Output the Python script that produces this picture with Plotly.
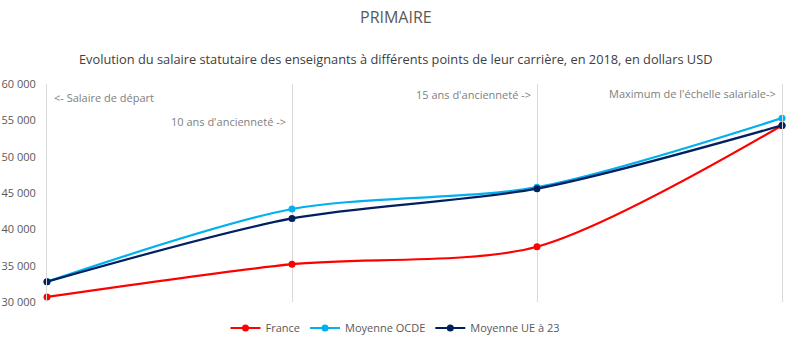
import plotly.graph_objects as go

points = ["Salaire de départ", "10 ans d'ancienneté", "15 ans d'ancienneté", "Maximum de l'échelle salariale"]
france = [30700, 35200, 37600, 54300]
ocde = [32800, 42800, 45800, 55300]
ue23 = [32800, 41500, 45600, 54300]
point_labels = ["<- Salaire de départ", "10 ans d'ancienneté ->", "15 ans d'ancienneté ->", "Maximum de l'échelle salariale->"]
label_levels = [58200, 54800, 58600, 58700]

xs = list(range(len(points)))
font = "Open Sans"

fig = go.Figure()
for name, vals, col in [("France", france, "#FF0000"),
                        ("Moyenne OCDE", ocde, "#00B0F0"),
                        ("Moyenne UE à 23", ue23, "#002060")]:
    fig.add_trace(go.Scatter(x=xs, y=vals, name=name, mode="lines+markers",
                             line=dict(color=col, width=2.2, shape="spline", smoothing=0.8),
                             marker=dict(color=col, size=7), customdata=points, cliponaxis=False))

def paper_y(py):
    return (302 - py) / 218

cx = (395.5 - 47) / 735

anns = []
for i, (t, lv) in enumerate(zip(point_labels, label_levels)):
    if i == 0:
        anns.append(dict(x=xs[i], y=lv, text=t, showarrow=False, xanchor="left", xshift=5,
                         font=dict(family=font, size=11, color="#808080")))
    else:
        anns.append(dict(x=xs[i], y=lv, text=t, showarrow=False, xanchor="right", xshift=-4,
                         font=dict(family=font, size=11, color="#808080")))
anns.append(dict(x=cx, y=paper_y(17), xref="paper", yref="paper", text="PRIMAIRE",
                 showarrow=False, xanchor="center", yanchor="middle",
                 font=dict(family=font, size=16, color="#595959")))
anns.append(dict(x=cx, y=paper_y(59), xref="paper", yref="paper",
                 text="Evolution du salaire statutaire des enseignants à différents points de leur carrière, en 2018, en dollars USD",
                 showarrow=False, xanchor="center", yanchor="middle",
                 font=dict(family=font, size=12.8, color="#404040")))

fig.update_layout(
    width=791, height=349,
    margin=dict(l=47, r=9, t=84, b=47, autoexpand=False),
    paper_bgcolor="white", plot_bgcolor="white",
    separators=", ",
    xaxis=dict(range=[0, 3], tickvals=xs, showticklabels=False, showgrid=True,
               gridcolor="#d9d9d9", gridwidth=1, zeroline=False, showline=False,
               automargin=False),
    yaxis=dict(range=[30000, 60000], dtick=5000, tickformat=",d", showgrid=False,
               zeroline=False, showline=True, mirror=True, linecolor="#d9d9d9", linewidth=1,
               ticklabelstandoff=8, automargin=False,
               tickfont=dict(family=font, size=11, color="#595959")),
    legend=dict(orientation="h", x=cx, xanchor="center", yref="container",
                y=(349 - 328) / 349, yanchor="middle",
                font=dict(family=font, size=11, color="#595959")),
    annotations=anns,
    showlegend=True,
)
fig.write_html("out.html")
